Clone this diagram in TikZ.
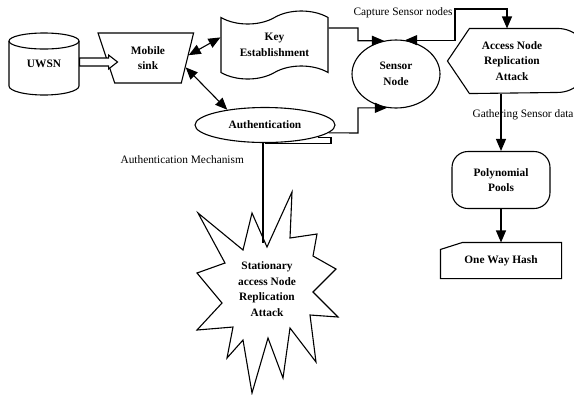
\documentclass[tikz,border=0pt]{standalone}
\usepackage{fontspec}
\setmainfont{Liberation Serif}
\usetikzlibrary{shapes.geometric,shapes.symbols,arrows.meta,calc}
\begin{document}
\begin{tikzpicture}[x=1bp,y=-1bp,line width=1.1bp,
  lbl/.style={font=\fontsize{11.4}{15.5}\selectfont,inner sep=0},
  box/.style={font=\fontsize{11.4}{15.5}\selectfont\bfseries,align=center,inner sep=0},
  arr/.style={-{Triangle[length=12bp,width=10bp]}},
  darr/.style={{Triangle[length=12bp,width=10bp]}-{Triangle[length=12bp,width=10bp]}}]
\useasboundingbox (0,0) rectangle (574,394);

% UWSN cylinder
\node[box,minimum width=70bp,minimum height=62bp] (uwsn) at (44,64) {UWSN};
\draw (44,41) ellipse [x radius=35,y radius=8];
\draw (9,41) -- (9,86) arc[start angle=180,end angle=0,x radius=35,y radius=9] -- (79,41);

% Mobile sink
\node[box,draw,trapezium,trapezium stretches=true,shape border rotate=180,
  trapezium left angle=75,trapezium right angle=70,
  minimum width=96bp,minimum height=50bp] (sink) at (148,58) {Mobile\\sink};

% hollow arrow UWSN -> sink
\draw[fill=white] ([yshift=6bp]uwsn.east) -- ++(29,0) -- ++(0,-3) -- ++(9,7) -- ++(-9,7) -- ++(0,-3) -- ++(-29,0) -- cycle;

% Key establishment
\node[box,draw,tape,minimum width=107bp,minimum height=68bp,tape bend height=13bp] (key) at (274.5,45) {Key\\Establishment};

% Sensor node
\node[box,draw,ellipse,minimum width=88bp,minimum height=68bp] (sensor) at (396,74) {Sensor\\Node};

% Authentication (tape-storage symbol)
\node[box,draw,ellipse,minimum width=140bp,minimum height=35bp] (auth) at (265,125) {Authentication};
\draw (auth.south) -- ++(66,0) -- ++(0,-6) -- ++(-13,0);

% Access node replication attack
\node[box,minimum width=128bp,minimum height=64bp] (access) at (512,61) {Access Node\\Replication\\Attack};
\draw (access.west) -- ($(access.north west)+(22,0)$) -- ($(access.north east)+(-19,0)$)
  arc[start angle=-90,end angle=90,radius=32] -- ($(access.south west)+(22,0)$) -- cycle;

% Polynomial pools
\node[box,draw,rounded corners=16bp,minimum width=98bp,minimum height=57bp] (poly) at (501,180) {Polynomial\\Pools};

% One way hash
\node[box,minimum width=120bp,minimum height=35bp] (hash) at (501,260.5) {One Way Hash};
\draw ($(hash.north west)+(0,7)$) -- ($(hash.north west)+(22,0)$) -- (hash.north east) -- (hash.south east) -- (hash.south west) -- cycle;

% Star
\draw (292,192) -- (290,238) -- (317,234) -- (313,256) -- (336,269) -- (313,292) -- (338,317)
  -- (310,315) -- (316,362) -- (290,328) -- (283,378) -- (268,338) -- (252,393) -- (243,340)
  -- (227,358) -- (233,327) -- (197,330) -- (222,303) -- (197,273) -- (225,263) -- (198,213)
  -- (243,250) -- (252,213) -- (267,247) -- cycle;
\node[box] (star) at (267,289) {Stationary\\access Node\\Replication\\Attack};
\coordinate (starin) at (263,243);

% connectors
\coordinate (kb) at (358,28);
\coordinate (ab) at (358,133);
\coordinate (capc) at (455,9);
\draw[darr] (sink.4) -- (key.172);
\draw[darr] (sink.-14) -- (auth.158);
\draw[arr] ([yshift=17bp]key.east) -- (kb) |- (sensor.110);
\draw[arr] (auth.-7) -- (ab) |- (sensor.-105);
\draw[darr] (sensor.75) -| (capc) -| ([xshift=-5bp]access.north);
\draw[arr] (access.south -| poly.north) -- (poly.north);
\draw[arr] (poly.south) -- (hash.north);
\draw (starin |- auth.south) -- (starin);

% labels
\node[lbl,anchor=west] (caplbl) at (353,13) {Capture Sensor nodes};
\node[lbl,anchor=west] (gathlbl) at (472,115) {Gathering Sensor data};
\node[lbl,anchor=west] (authlbl) at (120,160) {Authentication Mechanism};
\end{tikzpicture}
\end{document}
